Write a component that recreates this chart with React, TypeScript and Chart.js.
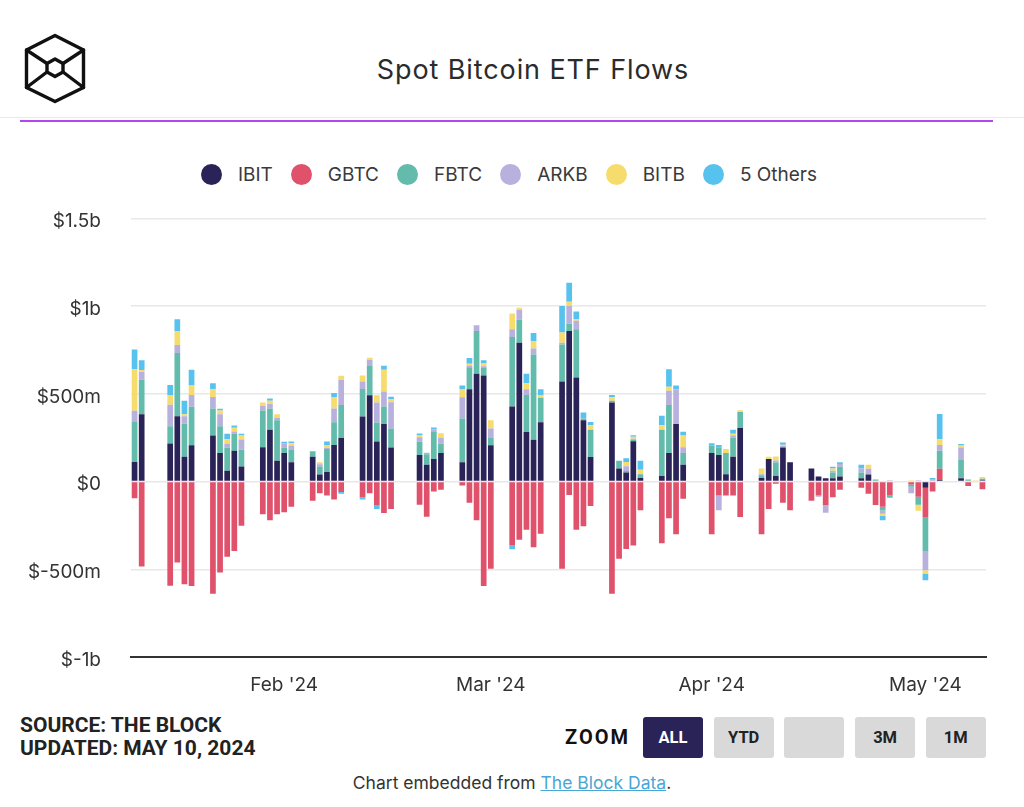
import React, { useEffect, useRef } from "react";
import { Chart, registerables } from "chart.js";

Chart.register(...registerables);

// ---- Data (values in $ millions) ----
const dates = [
  "2024-01-11", "2024-01-12", "2024-01-16", "2024-01-17", "2024-01-18", "2024-01-19",
  "2024-01-22", "2024-01-23", "2024-01-24", "2024-01-25", "2024-01-26",
  "2024-01-29", "2024-01-30", "2024-01-31", "2024-02-01", "2024-02-02",
  "2024-02-05", "2024-02-06", "2024-02-07", "2024-02-08", "2024-02-09",
  "2024-02-12", "2024-02-13", "2024-02-14", "2024-02-15", "2024-02-16",
  "2024-02-20", "2024-02-21", "2024-02-22", "2024-02-23",
  "2024-02-26", "2024-02-27", "2024-02-28", "2024-02-29", "2024-03-01",
  "2024-03-04", "2024-03-05", "2024-03-06", "2024-03-07", "2024-03-08",
  "2024-03-11", "2024-03-12", "2024-03-13", "2024-03-14", "2024-03-15",
  "2024-03-18", "2024-03-19", "2024-03-20", "2024-03-21", "2024-03-22",
  "2024-03-25", "2024-03-26", "2024-03-27", "2024-03-28",
  "2024-04-01", "2024-04-02", "2024-04-03", "2024-04-04", "2024-04-05",
  "2024-04-08", "2024-04-09", "2024-04-10", "2024-04-11", "2024-04-12",
  "2024-04-15", "2024-04-16", "2024-04-17", "2024-04-18", "2024-04-19",
  "2024-04-22", "2024-04-23", "2024-04-24", "2024-04-25", "2024-04-26",
  "2024-04-29", "2024-04-30", "2024-05-01", "2024-05-02", "2024-05-03",
  "2024-05-06", "2024-05-07", "2024-05-08", "2024-05-09",
];

const ibit = [
  112, 384, 217, 372, 142, 207,
  263, 163, 61, 175, 86,
  196, 296, 119, 163, 110,
  142, 40, 54, 209, 248,
  371, 492, 228, 328, 194,
  152, 96, 129, 163,
  110, 526, 614, 605, 207,
  428, 791, 282, 238, 338,
  570, 858, 593, 349, 140,
  451, 75, 52, 230, 21,
  31, 163, 328, 96,
  163, 152, 42, 142, 305,
  21, 129, 31, 194, 110,
  75, 29, 19, 19, 29,
  19, 40, 0, 0, 0,
  0, 0, -35, 0, 10,
  19, 0, 0, 8,
];

const gbtc = [
  -95, -484, -594, -461, -586, -595,
  -640, -518, -428, -396, -252,
  -186, -221, -186, -175, -144,
  -109, -67, -79, -102, -60,
  -90, -67, -134, -179, -156,
  -132, -200, -56, -46,
  -23, -121, -221, -595, -497,
  -361, -332, -275, -374, -298,
  -497, -77, -275, -255, -140,
  -640, -440, -384, -365, -163,
  -351, -209, -300, -98,
  -300, -79, -79, -79, -202,
  -300, -156, -12, -121, -163,
  -109, -79, -134, -90, -46,
  -35, -69, -134, -144, -79,
  -17, -86, -167, -56, 63,
  4, -25, 0, -44,
];

const fbtc = [
  227, 196, 98, 361, 188, 219,
  154, 152, 132, 98, 96,
  209, 121, 230, 31, 73,
  31, 46, 131, 129, 188,
  156, 167, 109, 100, 108,
  75, 60, 154, 52,
  250, 125, 244, 42, 42,
  396, 132, 211, 486, 140,
  211, 42, 275, 10, 156,
  10, 44, 8, 8, 21,
  265, 273, 0, 67,
  42, 44, 121, 108, 92,
  15, 0, 77, 0, 0,
  0, 0, 0, 33, 56,
  33, 0, 12, -21, -13,
  -12, -46, -194, 0, 102,
  100, 12, 0, 8,
];

const arkb = [
  65, 46, 123, 46, 42, 67,
  65, 69, 23, 13, 58,
  25, 25, 13, 25, 23,
  0, 12, 6, 79, 144,
  44, 35, 113, 86, 150,
  25, 8, 15, 35,
  121, 10, 33, 10, 54,
  44, 56, 33, 35, 0,
  10, 100, 48, 0, 0,
  0, 0, 27, 6, 0,
  0, 81, 198, 33,
  0, -84, 0, 13, 0,
  6, 0, 12, 8, 0,
  0, -8, -44, 10, 15,
  23, 33, 0, -19, 8,
  -38, 8, -109, 10, 33,
  71, 0, 0, 0,
];

const bitb = [
  238, 10, 56, 79, 12, 54,
  44, 21, 25, 21, 23,
  21, 19, 21, 0, 12,
  0, 12, 17, 65, 23,
  33, 12, 42, 123, 19,
  10, 0, 0, 25,
  46, 10, 0, 19, 46,
  90, 12, 35, 42, 12,
  58, 25, 10, 0, 25,
  19, 0, 25, 12, 25,
  25, 23, 0, 67,
  0, 0, 23, 10, 10,
  33, 12, 23, 8, 0,
  0, 0, 0, 13, 0,
  0, 23, 0, -13, 0,
  8, -35, -19, 0, 33,
  12, 0, 8, 10,
];

const others = [
  111, 56, 56, 67, 77, 90,
  35, 10, 31, 12, 10,
  0, 12, 0, 8, 10,
  0, 0, 21, 23, -10,
  -12, 0, -23, 23, 13,
  12, 0, 10, 0,
  21, 33, 0, 15, 0,
  -25, 0, 54, 46, 36,
  152, 108, 44, 35, 19,
  13, 0, 21, 8, 52,
  54, 100, 21, 21,
  13, 13, 0, 23, 0,
  0, 0, 0, 12, 0,
  0, 0, 0, 10, 10,
  21, 0, 0, -23, 0,
  0, 0, -38, 10, 144,
  8, 0, 0, 0,
];

const seriesNames = ["IBIT", "GBTC", "FBTC", "ARKB", "BITB", "5 Others"];
const seriesValues = [ibit, gbtc, fbtc, arkb, bitb, others];
const seriesColors = ["#2a2358", "#e0526c", "#62bbab", "#b8b1dd", "#f6dc6c", "#58c2ee"];

const yTickValues = [-1000, -500, 0, 500, 1000, 1500];
const yTickLabels = ["$-1b", "$-500m", "$0", "$500m", "$1b", "$1.5b"];
const monthTickDates = ["2024-02-01", "2024-03-01", "2024-04-01", "2024-05-01"];
const monthTickLabels = ["Feb '24", "Mar '24", "Apr '24", "May '24"];

const zoomButtons = ["ALL", "YTD", "", "3M", "1M"];

// ---- helpers ----
const DAY = 86400000;
const toMs = (d: string) => Date.parse(d + "T00:00:00Z");
const isoOf = (ms: number) => new Date(ms).toISOString().slice(0, 10);

// every calendar day between the first and last trading day (time-proportional axis)
function buildCalendar() {
  const start = toMs(dates[0]);
  const end = toMs(dates[dates.length - 1]);
  const days: string[] = [];
  for (let t = start; t <= end; t += DAY) days.push(isoOf(t));
  return days;
}

const FONT = "Inter, 'Noto Sans', sans-serif";

function Logo() {
  return (
    <svg width={110} height={130} style={{ position: "absolute", left: 0, top: 0 }}>
      <g fill="none" stroke="#111" strokeWidth={3.4} strokeLinejoin="round" strokeLinecap="round">
        <polygon points="55,35.5 83.5,50 83.5,87.5 55,101.5 26.5,87.5 26.5,50" />
        <polygon points="55,59 63,63.5 63,72 55,76.5 47,72 47,63.5" />
        <line x1={26.5} y1={50} x2={47} y2={63.5} />
        <line x1={83.5} y1={50} x2={63} y2={63.5} />
        <line x1={26.5} y1={87.5} x2={47} y2={72} />
        <line x1={83.5} y1={87.5} x2={63} y2={72} />
      </g>
    </svg>
  );
}

const CANVAS_TOP = 177;
const CANVAS_H = 533;

function FlowsChart() {
  const ref = useRef<HTMLCanvasElement | null>(null);

  useEffect(() => {
    if (!ref.current) return;
    const calendar = buildCalendar();
    const pos = new Map<string, number>();
    dates.forEach((d, i) => pos.set(d, i));
    const monthIdx = monthTickDates.map((d) => calendar.indexOf(d));

    const chart = new Chart(ref.current, {
      type: "bar",
      data: {
        labels: calendar,
        datasets: seriesNames.map((name, si) => ({
          label: name,
          data: calendar.map((d) => (pos.has(d) ? seriesValues[si][pos.get(d) as number] : null)),
          backgroundColor: seriesColors[si],
          borderWidth: 0,
          barPercentage: 0.8,
          categoryPercentage: 1,
        })),
      },
      options: {
        animation: false,
        responsive: false,
        maintainAspectRatio: false,
        layout: { padding: { top: 18, right: 38, bottom: 0, left: 0 } },
        plugins: { legend: { display: false }, tooltip: { enabled: false } },
        scales: {
          x: {
            type: "category",
            stacked: true,
            offset: true,
            grid: { display: false, drawTicks: false },
            border: { display: true, color: "#333333", width: 2 },
            afterBuildTicks: (s: any) => {
              s.ticks = monthIdx.map((v) => ({ value: v }));
            },
            afterFit: (s: any) => {
              s.height = 53;
            },
            ticks: {
              autoSkip: false,
              maxRotation: 0,
              padding: 17,
              color: "#333333",
              font: { family: FONT, size: 19 },
              callback: (v: any) => {
                const k = monthIdx.indexOf(Number(v));
                return k >= 0 ? monthTickLabels[k] : "";
              },
            },
          },
          y: {
            stacked: true,
            min: yTickValues[0],
            max: yTickValues[yTickValues.length - 1],
            afterBuildTicks: (s: any) => {
              s.ticks = yTickValues.map((v) => ({ value: v }));
            },
            afterFit: (s: any) => {
              s.width = 131;
            },
            grid: { color: "#e8e8e8", lineWidth: 1.5, drawTicks: false },
            border: { display: false },
            ticks: {
              padding: 30,
              labelOffset: 3,
              color: "#333333",
              font: { family: FONT, size: 19 },
              callback: (v: any) => {
                const k = yTickValues.indexOf(Number(v));
                return k >= 0 ? yTickLabels[k] : "";
              },
            },
          },
        },
      },
    } as any);
    return () => chart.destroy();
  }, []);

  return (
    <canvas
      ref={ref}
      width={1024}
      height={CANVAS_H}
      style={{ position: "absolute", left: 0, top: CANVAS_TOP, width: 1024, height: CANVAS_H }}
    />
  );
}

export default function App() {
  return (
    <div
      style={{
        position: "fixed",
        left: 0,
        top: 0,
        width: 1024,
        height: 807,
        background: "#ffffff",
        overflow: "hidden",
        fontFamily: FONT,
      }}
    >
      <Logo />
      <div
        style={{
          position: "absolute",
          left: 33,
          top: 52,
          width: 1000,
          textAlign: "center",
          fontSize: 27,
          lineHeight: "36px",
          color: "#2b2b2b",
          fontFamily: FONT,
          letterSpacing: 0.9,
        }}
      >
        Spot Bitcoin ETF Flows
      </div>
      <div style={{ position: "absolute", left: 0, top: 117, width: 1024, height: 1, background: "#f1e8f7" }} />
      <div style={{ position: "absolute", left: 20, top: 119.5, width: 973, height: 2.5, background: "#b147ec" }} />

      {/* legend */}
      <div
        style={{
          position: "absolute",
          left: -3,
          top: 160,
          width: 1024,
          height: 28,
          display: "flex",
          justifyContent: "center",
          alignItems: "center",
        }}
      >
        {seriesNames.map((name, i) => (
          <div key={name} style={{ display: "flex", alignItems: "center", marginRight: i < seriesNames.length - 1 ? 18 : 0 }}>
            <div style={{ width: 21, height: 21, borderRadius: "50%", background: seriesColors[i], marginRight: 16 }} />
            <span style={{ fontSize: 19, color: "#3a3a3a", fontFamily: FONT }}>{name}</span>
          </div>
        ))}
      </div>

      <FlowsChart />

      {/* footer left */}
      <div
        style={{
          position: "absolute",
          left: 20,
          top: 714,
          fontFamily: "Roboto, sans-serif",
          fontWeight: 700,
          fontSize: 21,
          lineHeight: "23px",
          color: "#222",
        }}
      >
        <div>SOURCE: THE BLOCK</div>
        <div>UPDATED: MAY 10, 2024</div>
      </div>

      {/* zoom buttons */}
      <div
        style={{
          position: "absolute",
          left: 565,
          top: 724,
          fontFamily: "Roboto, sans-serif",
          fontWeight: 700,
          fontSize: 20,
          letterSpacing: 2,
          lineHeight: "26px",
          color: "#111",
        }}
      >
        ZOOM
      </div>
      {zoomButtons.map((b, i) => (
        <div
          key={i}
          style={{
            position: "absolute",
            left: 643 + i * 70.7,
            top: 717,
            width: 60,
            height: 41,
            borderRadius: 3,
            background: b === "ALL" ? "#2a2358" : "#d9d9d9",
            color: b === "ALL" ? "#ffffff" : "#222",
            fontFamily: "Roboto, sans-serif",
            fontWeight: 700,
            fontSize: 16.5,
            lineHeight: "42px",
            textAlign: "center",
          }}
        >
          {b}
        </div>
      ))}

      {/* embed note */}
      <div
        style={{
          position: "absolute",
          left: 0,
          top: 771,
          width: 1024,
          textAlign: "center",
          fontSize: 17.5,
          lineHeight: "24px",
          color: "#333",
          fontFamily: FONT,
        }}
      >
        Chart embedded from{" "}
        <span style={{ color: "#4aa6d4", textDecoration: "underline" }}>The Block Data</span>.
      </div>
    </div>
  );
}
